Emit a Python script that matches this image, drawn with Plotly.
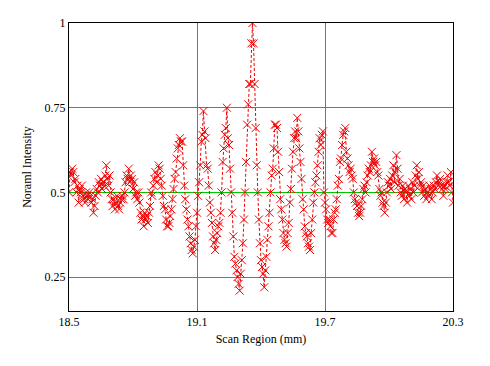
import numpy as np
import plotly.graph_objects as go

x_start = 18.5
x_step = 0.005

intensity = [
    0.50, 0.56, 0.55, 0.57, 0.56, 0.53, 0.54, 0.50, 0.52, 0.47,
    0.51, 0.50, 0.52, 0.49, 0.48, 0.47, 0.50, 0.49, 0.48, 0.50,
    0.49, 0.47, 0.48, 0.44, 0.46, 0.49, 0.51, 0.50, 0.53, 0.52,
    0.54, 0.51, 0.53, 0.52, 0.55, 0.58, 0.54, 0.52, 0.55, 0.50,
    0.48, 0.46, 0.48, 0.45, 0.47, 0.49, 0.46, 0.45, 0.47, 0.48,
    0.49, 0.48, 0.50, 0.53, 0.55, 0.54, 0.57, 0.53, 0.55, 0.54,
    0.51, 0.53, 0.49, 0.50, 0.48, 0.50, 0.47, 0.44, 0.42, 0.43,
    0.40, 0.44, 0.42, 0.43, 0.41, 0.44, 0.46, 0.50, 0.49, 0.52,
    0.54, 0.56, 0.53, 0.55, 0.58, 0.57, 0.54, 0.52, 0.49, 0.46,
    0.45, 0.42, 0.40, 0.40, 0.41, 0.43, 0.45, 0.48, 0.51, 0.54,
    0.56, 0.60, 0.63, 0.64, 0.66, 0.65, 0.65, 0.58, 0.52, 0.48,
    0.45, 0.42, 0.40, 0.37, 0.35, 0.33, 0.32, 0.34, 0.36, 0.40,
    0.44, 0.49, 0.53, 0.58, 0.65, 0.67, 0.74, 0.68, 0.66, 0.58,
    0.57, 0.52, 0.47, 0.44, 0.41, 0.37, 0.35, 0.33, 0.36, 0.38,
    0.40, 0.41, 0.44, 0.50, 0.59, 0.63, 0.67, 0.69, 0.75, 0.66,
    0.64, 0.57, 0.50, 0.44, 0.37, 0.31, 0.29, 0.27, 0.25, 0.23,
    0.21, 0.26, 0.30, 0.35, 0.42, 0.50, 0.59, 0.70, 0.76, 0.82,
    0.82, 0.94, 1.00, 0.94, 0.82, 0.69, 0.58, 0.50, 0.42, 0.35,
    0.30, 0.28, 0.26, 0.22, 0.27, 0.31, 0.36, 0.40, 0.44, 0.50,
    0.55, 0.57, 0.63, 0.70, 0.70, 0.69, 0.62, 0.56, 0.48, 0.45,
    0.42, 0.38, 0.36, 0.35, 0.34, 0.38, 0.41, 0.47, 0.51, 0.57,
    0.62, 0.66, 0.68, 0.66, 0.72, 0.68, 0.63, 0.59, 0.54, 0.48,
    0.45, 0.40, 0.38, 0.37, 0.35, 0.34, 0.33, 0.38, 0.42, 0.47,
    0.50, 0.53, 0.55, 0.58, 0.62, 0.66, 0.64, 0.67, 0.68, 0.50,
    0.47, 0.45, 0.42, 0.41, 0.42, 0.40, 0.38, 0.38, 0.42, 0.44,
    0.45, 0.48, 0.52, 0.54, 0.59, 0.60, 0.64, 0.67, 0.68, 0.69,
    0.62, 0.60, 0.58, 0.56, 0.57, 0.55, 0.54, 0.50, 0.48, 0.47,
    0.46, 0.44, 0.43, 0.44, 0.46, 0.48, 0.51, 0.52, 0.50, 0.53,
    0.55, 0.57, 0.56, 0.58, 0.62, 0.59, 0.60, 0.58, 0.59, 0.56,
    0.55, 0.51, 0.49, 0.50, 0.47, 0.46, 0.44, 0.47, 0.50, 0.53,
    0.52, 0.54, 0.51, 0.55, 0.58, 0.53, 0.56, 0.61, 0.57, 0.52,
    0.54, 0.50, 0.49, 0.52, 0.48, 0.51, 0.50, 0.47, 0.52, 0.49,
    0.51, 0.48, 0.53, 0.50, 0.52, 0.55, 0.58, 0.54, 0.56, 0.52,
    0.53, 0.50, 0.52, 0.49, 0.51, 0.48, 0.50, 0.49, 0.52, 0.51,
    0.48, 0.50, 0.52, 0.51, 0.53, 0.55, 0.52, 0.53, 0.54, 0.52,
    0.51, 0.49, 0.52, 0.51, 0.53, 0.55, 0.53, 0.52, 0.56, 0.50,
    0.47,
]

scan_pos = np.round(x_start + x_step * np.arange(len(intensity)), 3)

x_ticks = [18.5, 19.1, 19.7, 20.3]
x_tick_text = ["18.5", "19.1", "19.7", "20.3"]
y_ticks = [0.25, 0.5, 0.75, 1.0]
y_tick_text = ["0.25", "0.5", "0.75", "1"]

red = "#f00000"
green = "#00c800"
font = dict(family="Liberation Serif", size=12, color="black")

fig = go.Figure()
fig.add_trace(go.Scatter(
    x=scan_pos, y=intensity, mode="lines+markers",
    line=dict(color=red, width=1, dash="3px,2px"),
    marker=dict(symbol="x-thin-open", size=8, color=red,
                line=dict(color=red, width=1)),
    showlegend=False, cliponaxis=True,
))

fig.update_layout(
    width=490, height=366,
    margin=dict(l=69, r=37, t=23, b=55),
    paper_bgcolor="white", plot_bgcolor="white",
    font=font,
    xaxis=dict(
        range=[18.5, 20.3], tickvals=x_ticks, ticktext=x_tick_text,
        showgrid=True, gridcolor=green, gridwidth=1,
        showline=True, linecolor="black", linewidth=1, mirror=True,
        zeroline=False, ticks="", tickfont=font,
        title=dict(text="Scan Region (mm)", font=font, standoff=6),
    ),
    yaxis=dict(
        range=[0.15, 1.0], tickvals=y_ticks, ticktext=y_tick_text,
        showgrid=True, gridcolor=green, gridwidth=1,
        showline=True, linecolor="black", linewidth=1, mirror=True,
        zeroline=False, ticks="", tickfont=font,
        title=dict(text="Noraml Intensity", font=font, standoff=10),
    ),
)

fig.write_html("out.html")
